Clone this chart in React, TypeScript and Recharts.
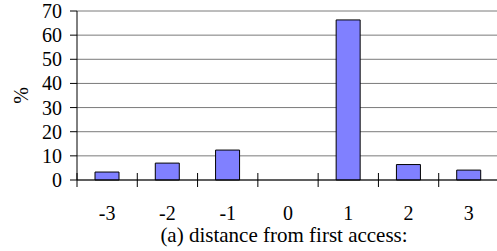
import { BarChart, Bar, XAxis, YAxis, CartesianGrid } from "recharts";

const distances = ["-3", "-2", "-1", "0", "1", "2", "3"];
const percents = [3.3, 7.0, 12.4, 0, 66.3, 6.4, 4.1];
const yTicks = [0, 10, 20, 30, 40, 50, 60, 70];

const FONT = "Liberation Serif";
const txt = { fontFamily: FONT, fontSize: 20 };

const data = distances.map((d, i) => ({ distance: d, pct: percents[i] }));

// label at category centre, tick mark on the left boundary of each category
function DistanceTick(props: any) {
  const { x, y, payload } = props;
  const half = payload?.offset ?? 0;
  return (
    <g>
      <line x1={x - half} x2={x - half} y1={y - 7} y2={y + 7} stroke="#000" strokeWidth={1} />
      <text x={x} y={y + 33} textAnchor="middle" dominantBaseline="central" style={txt} fill="#000">
        {payload.value}
      </text>
    </g>
  );
}

function ValueTick(props: any) {
  const { x, y, payload } = props;
  return (
    <text x={x} y={y} textAnchor="end" dominantBaseline="central" style={txt} fill="#000">
      {payload.value}
    </text>
  );
}

function PercentLabel(props: any) {
  const vb = props.viewBox;
  const cx = vb.x + 21;
  const cy = vb.y + vb.height / 2;
  return (
    <text x={cx} y={cy} transform={`rotate(-90 ${cx} ${cy})`} textAnchor="middle" dominantBaseline="central" style={txt} fill="#000">
      %
    </text>
  );
}

function AxisTitle(props: any) {
  const vb = props.viewBox;
  return (
    <text x={vb.x + vb.width / 2 - 4} y={vb.y + 55} textAnchor="middle" dominantBaseline="central" style={{ fontFamily: FONT, fontSize: 21 }} fill="#000">
      (a) distance from first access:
    </text>
  );
}

export default function App() {
  return (
    <div style={{ position: "absolute", left: 0, top: 0, background: "#fff" }}>
      <BarChart width={500} height={251} data={data} margin={{ top: 11, right: 1, left: 0, bottom: 0 }} barSize={24}>
        <CartesianGrid vertical={false} stroke="#7a7a7a" strokeWidth={1} />
        <XAxis
          dataKey="distance"
          height={71}
          tickLine={false}
          tickSize={0}
          tickMargin={0}
          axisLine={{ stroke: "#000" }}
          tick={<DistanceTick />}
          interval={0}
          label={<AxisTitle />}
        />
        <YAxis
          width={77}
          domain={[0, 70]}
          ticks={yTicks}
          interval={0}
          tickSize={7}
          tickMargin={8}
          axisLine={{ stroke: "#000" }}
          tickLine={{ stroke: "#000" }}
          tick={<ValueTick />}
          label={<PercentLabel />}
        />
        <Bar dataKey="pct" fill="#8080ff" stroke="#000" strokeWidth={1} isAnimationActive={false} />
      </BarChart>
    </div>
  );
}
